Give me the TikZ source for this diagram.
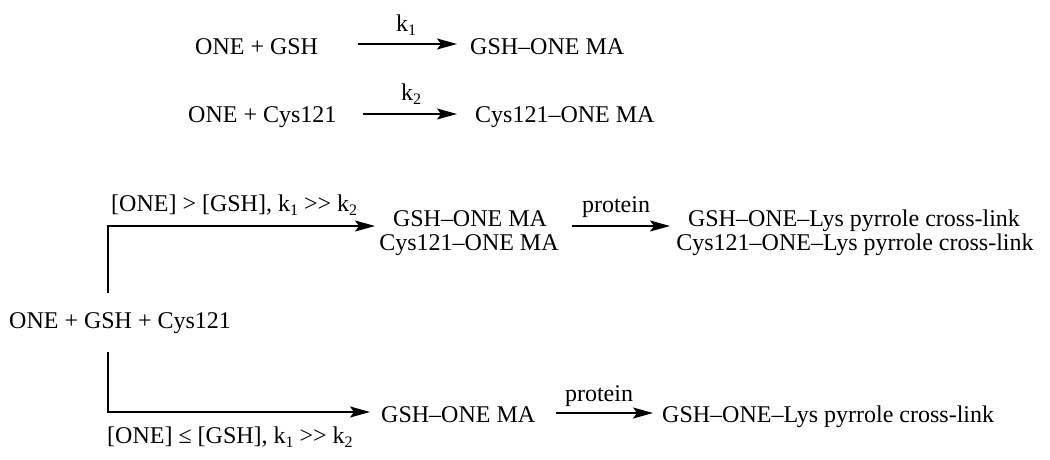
\documentclass[tikz,border=0pt]{standalone}
\usepackage{fontspec}
\setmainfont{Liberation Serif}
\usetikzlibrary{arrows.meta}
\newcommand\sbs[1]{\raisebox{-4pt}{\fontsize{16}{16}\selectfont #1}}
\tikzset{
  txt/.style={inner sep=0pt, anchor=base west, font=\fontsize{24}{21}\selectfont},
  lbl/.style={inner sep=0pt, anchor=base, font=\fontsize{24}{21}\selectfont},
  arr/.style={line width=1.7pt, -{Stealth[length=20pt,width=11pt,inset=4pt]}},
  ln/.style={line width=1.7pt}
}
\begin{document}
\begin{tikzpicture}[x=1pt,y=-1pt]
\useasboundingbox (0,0) rectangle (1050,460);
% top reactions
\node[txt] (r1) at (195,55) {ONE + GSH};
\node[txt] (p1) at (470,55) {GSH\textendash ONE MA};
\coordinate (a1s) at (358,44);
\coordinate (a1e) at (457,44);
\draw[arr] (a1s) -- (a1e);
\node[lbl] (k1) at (406,32) {k\sbs{1}};

\node[txt] (r2) at (188,122) {ONE + Cys121};
\node[txt] (p2) at (475,122) {Cys121\textendash ONE MA};
\coordinate (a2s) at (363,114);
\coordinate (a2e) at (457,114);
\draw[arr] (a2s) -- (a2e);
\node[lbl] (k2) at (411,100) {k\sbs{2}};

% branching scheme
\node[txt] (src) at (9,328) {ONE + GSH + Cys121};
\coordinate (b1) at (108,293);
\coordinate (e1) at (375,226);
\coordinate (b2) at (108,352);
\coordinate (e2) at (370,412);
\draw[arr] (b1) |- (e1);
\draw[arr] (b2) |- (e2);
\node[txt] (c1) at (111,211) {[ONE] > [GSH], k\sbs{1} >{}> k\sbs{2}};
\node[txt] (c2) at (107,443) {[ONE] ≤ [GSH], k\sbs{1} >{}> k\sbs{2}};

\node[lbl] (ma1a) at (470,226) {GSH\textendash ONE MA};
\node[lbl] (ma1b) at (469,250) {Cys121\textendash ONE MA};
\coordinate (pa1s) at (572,226);
\coordinate (pa1e) at (670,226);
\draw[arr] (pa1s) -- (pa1e);
\node[lbl] (pr1) at (616,212) {protein};
\node[lbl] (x1a) at (854,226) {GSH\textendash ONE\textendash Lys pyrrole cross-link};
\node[lbl] (x1b) at (855,250) {Cys121\textendash ONE\textendash Lys pyrrole cross-link};

\node[txt] (ma2) at (381,422) {GSH\textendash ONE MA};
\coordinate (pa2s) at (556,413);
\coordinate (pa2e) at (653,413);
\draw[arr] (pa2s) -- (pa2e);
\node[lbl] (pr2) at (599,401) {protein};
\node[txt] (x2) at (662,422) {GSH\textendash ONE\textendash Lys pyrrole cross-link};
\end{tikzpicture}
\end{document}
